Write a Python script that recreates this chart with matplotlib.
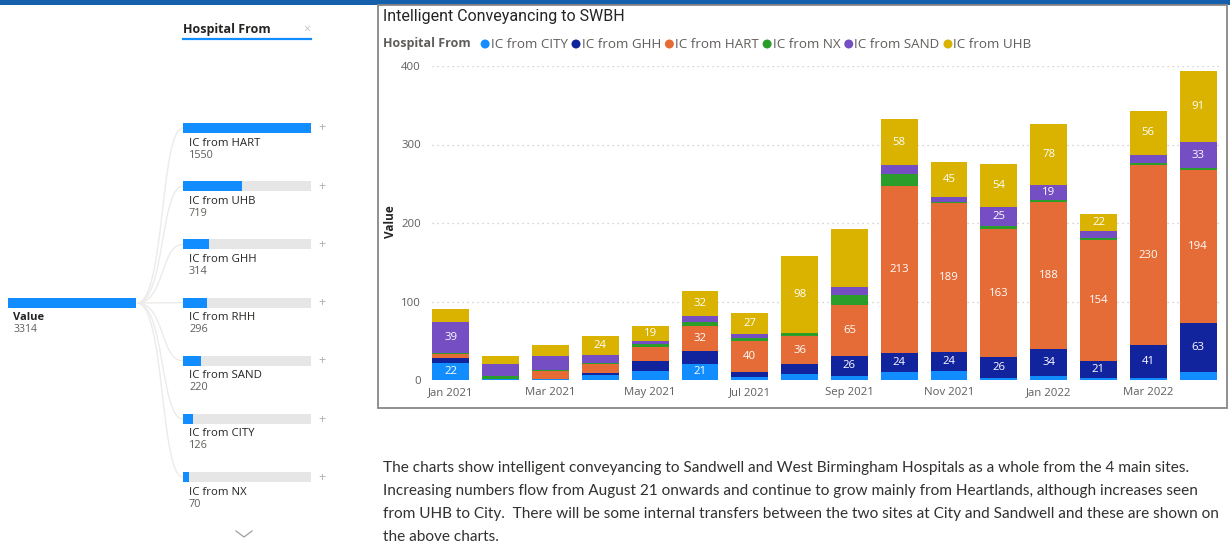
import matplotlib.pyplot as plt
import numpy as np
from matplotlib.path import Path
from matplotlib.patches import PathPatch, Rectangle, Circle

W, H = 1230, 542

# monthly intelligent conveyancing counts by source hospital
months = ["Jan 2021", "Feb 2021", "Mar 2021", "Apr 2021", "May 2021", "Jun 2021",
          "Jul 2021", "Aug 2021", "Sep 2021", "Oct 2021", "Nov 2021", "Dec 2021",
          "Jan 2022", "Feb 2022", "Mar 2022", "Apr 2022"]
series_names = ["IC from CITY", "IC from GHH", "IC from HART", "IC from NX",
                "IC from SAND", "IC from UHB"]
city = [22, 1, 1, 6, 12, 21, 4, 8, 5, 10, 12, 3, 5, 3, 3, 10]
ghh = [6, 0, 0, 3, 12, 16, 6, 12, 26, 24, 24, 26, 34, 21, 41, 63]
hart = [5, 0, 11, 12, 18, 32, 40, 36, 65, 213, 189, 163, 188, 154, 230, 194]
nx = [2, 4, 1, 1, 4, 5, 4, 4, 12, 16, 2, 4, 2, 3, 3, 3]
sand = [39, 15, 18, 10, 4, 7, 4, 0, 10, 11, 6, 25, 19, 9, 10, 33]
uhb = [17, 11, 13, 24, 19, 32, 27, 98, 74, 58, 45, 54, 78, 22, 56, 91]
colors = ["#118DFF", "#12239E", "#E66C37", "#2A9D2A", "#744EC2", "#D9B300"]

# segments whose data label is not drawn (month index, series index)
hidden_labels = [(8, 5)]
label_min = 19

# decomposition tree totals
tree_names = ["IC from HART", "IC from UHB", "IC from GHH", "IC from RHH",
              "IC from SAND", "IC from CITY", "IC from NX"]
tree_values = [1550, 719, 314, 296, 220, 126, 70]
tree_total = 3314

paragraph = [
    "The charts show intelligent conveyancing to Sandwell and West Birmingham Hospitals as a whole from the 4 main sites.",
    "Increasing numbers flow from August 21 onwards and continue to grow mainly from Heartlands, although increases seen",
    "from UHB to City.  There will be some internal transfers between the two sites at City and Sandwell and these are shown on",
    "the above charts.",
]

plt.rcParams['font.family'] = ['Open Sans', 'DejaVu Sans']
TXT = "#252423"
GREY = "#605E5C"

fig = plt.figure(figsize=(W / 100, H / 100), dpi=100)
fig.patch.set_facecolor("white")


def fx(x):
    return x / W


def fy(y):
    return 1 - y / H


# top banner strip and chart frame
fig.patches.append(Rectangle((0, fy(5)), 1, 5 / H, transform=fig.transFigure,
                             facecolor="#1560AC", edgecolor="none"))
fig.patches.append(Rectangle((fx(378), fy(408)), 849 / W, 403 / H, transform=fig.transFigure,
                             facecolor="none", edgecolor="#8A8886", linewidth=1.3))

# ---- stacked column chart ----
ax = fig.add_axes([fx(432), fy(380), 790 / W, 314 / H])
data = np.array([city, ghh, hart, nx, sand, uhb])
x = np.arange(len(months))
bottom = np.zeros(len(months))
for si, (name, vals) in enumerate(zip(series_names, data)):
    ax.bar(x, vals, width=0.74, bottom=bottom, color=colors[si], label=name, zorder=3)
    for mi, v in enumerate(vals):
        if v >= label_min and (mi, si) not in hidden_labels:
            ax.text(mi, bottom[mi] + v / 2, str(v), ha="center", va="center",
                    color="white", fontsize=8.2, zorder=4)
    bottom += vals

ax.set_xlim(-0.38, 15.48)
ax.set_ylim(0, 400)
ax.set_yticks([0, 100, 200, 300, 400])
ax.set_xticks(x[::2])
ax.set_xticklabels(months[::2])
ax.tick_params(length=0, labelsize=8.2, labelcolor=GREY)
ax.tick_params(axis="y", pad=8)
ax.tick_params(axis="x", pad=5)
ax.yaxis.grid(True, linestyle=(0, (1, 3)), color="#C8C6C4", linewidth=0.9, zorder=0)
for s in ax.spines.values():
    s.set_visible(False)

fig.text(fx(383), fy(16), "Intelligent Conveyancing to SWBH", fontsize=11.5,
         color=TXT, va="center", ha="left", family=["Roboto", "DejaVu Sans"])
fig.text(fx(391), fy(222), "Value", rotation=90, fontsize=8.5, fontweight="bold",
         color=TXT, va="center", ha="center")

# legend row drawn left to right
fig.canvas.draw()
renderer = fig.canvas.get_renderer()
t = fig.text(fx(383), fy(44), "Hospital From", fontsize=9, fontweight="bold",
             color=GREY, va="center", ha="left")
cur = t.get_window_extent(renderer).x1 + 10
for name, c in zip(series_names, colors):
    fig.patches.append(Circle((cur + 4.5, fy(44) * H), 4.5, transform=None,
                              facecolor=c, edgecolor="none"))
    lt = fig.text((cur + 10) / W, fy(44), name, fontsize=9.6, color=GREY,
                  va="center", ha="left")
    cur = lt.get_window_extent(renderer).x1 + 4

# ---- decomposition tree ----
fig.text(fx(183), fy(29), "Hospital From", fontsize=9, fontweight="bold",
         color=TXT, va="center", ha="left")
fig.text(fx(307), fy(29), "\u00d7", fontsize=9, color="#C8C6C4", va="center", ha="center")
fig.lines.append(plt.Line2D([fx(183), fx(311)], [fy(38.5), fy(38.5)],
                            transform=fig.transFigure, color="#118DFF", linewidth=1.6))

root_y = 303
fig.patches.append(Rectangle((fx(8), fy(root_y + 5)), 128 / W, 10 / H,
                             transform=fig.transFigure, facecolor="#118DFF", edgecolor="none"))
fig.text(fx(13), fy(318), "Value", fontsize=8, fontweight="bold", color=TXT, va="center")
fig.text(fx(13), fy(330), str(tree_total), fontsize=7.5, color=GREY, va="center")

bar_x0, bar_w = 183, 128
max_val = max(tree_values)
for i, (name, val) in enumerate(zip(tree_names, tree_values)):
    yc = 128 + i * 58.2
    # connector curve from the root node
    verts = [(fx(137), fy(root_y)), (fx(165), fy(root_y)), (fx(160), fy(yc)), (fx(183), fy(yc))]
    path = Path(verts, [Path.MOVETO, Path.CURVE4, Path.CURVE4, Path.CURVE4])
    fig.patches.append(PathPatch(path, transform=fig.transFigure, facecolor="none",
                                 edgecolor="#EDEBE9", linewidth=1.0))
    fig.patches.append(Rectangle((fx(bar_x0), fy(yc + 5)), bar_w / W, 10 / H,
                                 transform=fig.transFigure, facecolor="#E6E6E6", edgecolor="none"))
    fig.patches.append(Rectangle((fx(bar_x0), fy(yc + 5)), bar_w * val / max_val / W, 10 / H,
                                 transform=fig.transFigure, facecolor="#118DFF", edgecolor="none"))
    fig.text(fx(322), fy(yc), "+", fontsize=9, color="#B3B0AD", va="center", ha="center")
    fig.text(fx(189), fy(yc + 15), name, fontsize=8.2, color=TXT, va="center")
    fig.text(fx(189), fy(yc + 27), str(val), fontsize=7.8, color=GREY, va="center")

# scroll chevron under the tree
fig.lines.append(plt.Line2D([fx(236), fx(244), fx(252)], [fy(531), fy(537), fy(531)],
                            transform=fig.transFigure, color="#A19F9D", linewidth=0.9))

# ---- commentary text, sized so the longest line ends at the frame's right side ----
probe = fig.text(0, 0, paragraph[2], fontsize=10, family=["Lato", "DejaVu Sans"])
para_size = 10 * 838 / probe.get_window_extent(renderer).width
probe.remove()
for i, line in enumerate(paragraph):
    fig.text(fx(383), fy(468 + i * 23), line, fontsize=para_size, color="#323130",
             va="center", ha="left", family=["Lato", "DejaVu Sans"])

fig.savefig("out.png", dpi=100)
